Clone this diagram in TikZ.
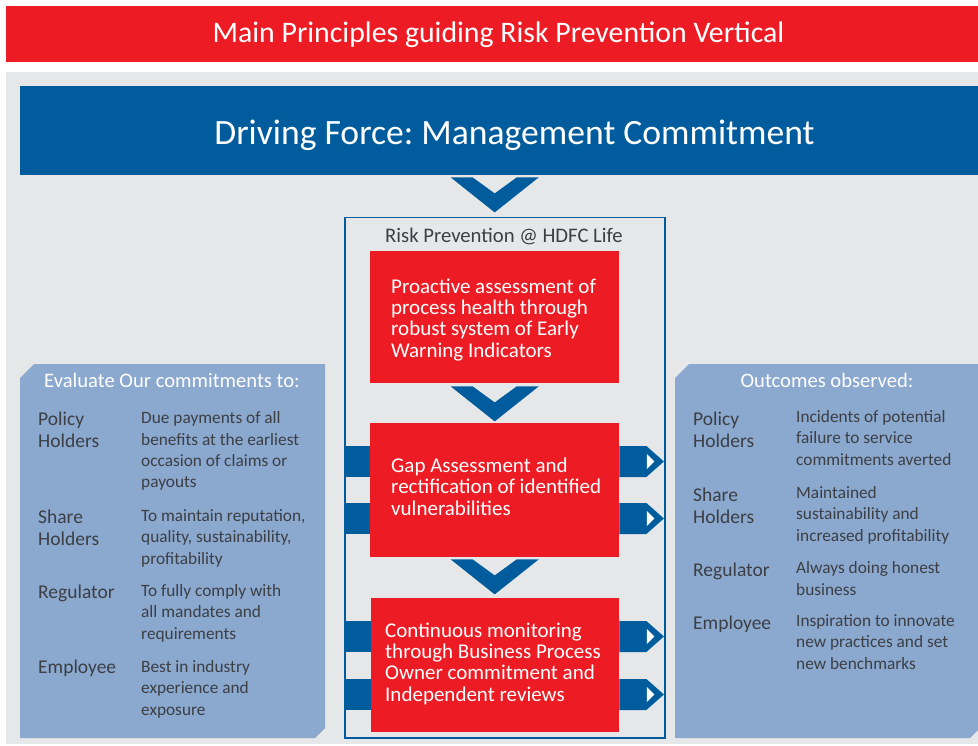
\documentclass[tikz,border=0pt]{standalone}
\usepackage{fontspec}
\setmainfont{Carlito}
\frenchspacing
\usetikzlibrary{calc}
\definecolor{hred}{HTML}{ED1C24}
\definecolor{hblue}{HTML}{005C9C}
\definecolor{hgray}{HTML}{E6E7E9}
\definecolor{hpanel}{HTML}{8BA8CF}
\definecolor{tdark}{HTML}{3C3F44}
\tikzset{
  chevron/.pic={\fill[hblue] (-44,0) -- (-22,0) -- (0,16) -- (22,0) -- (44,0) -- (0,35) -- cycle;},
  rarrow/.pic={\fill[hblue] (0,-15.5) -- (27,-15.5) -- (44.5,0) -- (27,15.5) -- (0,15.5) -- cycle;
               \fill[white] (27.5,-7.5) -- (35,0) -- (27.5,7.5) -- cycle;},
  redbox/.style={fill=hred, inner sep=0, anchor=north west},
  redtext/.style={text=white, inner sep=0, anchor=base west, align=left, font=\fontsize{21}{21.3}\selectfont},
  ptitle/.style={text=white, inner sep=0, anchor=base, font=\fontsize{20.6}{22}\selectfont},
  lbl/.style={text=tdark, inner sep=0, anchor=base west, align=left, font=\fontsize{19.5}{21.5}\selectfont},
  desc/.style={text=tdark, inner sep=0, anchor=base west, align=left, font=\fontsize{17.3}{21.2}\selectfont},
}
\begin{document}
\begin{tikzpicture}[x=1pt,y=-1pt]
\useasboundingbox (0,0) rectangle (978,746);
\fill[white] (0,0) rectangle (978,746);
% title bar
\node[fill=hred, inner sep=0, minimum width=972pt, minimum height=56pt, anchor=north west] (titlebar) at (6,6) {};
\node[text=white, inner sep=0, anchor=base, font=\fontsize{29.8}{32}\selectfont] (titletext) at (498.5,43) {Main Principles guiding Risk Prevention Vertical};
% gray background
\fill[hgray] (6,72) rectangle (978,744);
% driving force band
\node[fill=hblue, inner sep=0, minimum width=958pt, minimum height=89pt, anchor=north west] (band) at (20,86) {};
\node[text=white, inner sep=0, anchor=base, font=\fontsize{35.6}{38}\selectfont] (bandtext) at (514.5,145) {Driving Force: Management Commitment};
% frame
\node[draw=hblue, line width=1.5pt, inner sep=0, minimum width=320pt, minimum height=520pt, anchor=north west] (frame) at (344,217) {};
\node[text=tdark, inner sep=0, anchor=base, font=\fontsize{20.7}{22}\selectfont] (frametitle) at (504,243) {Risk Prevention @ HDFC Life};
% red boxes
\node[redbox, minimum width=249pt, minimum height=132pt] (b1) at (370,251) {};
\node[redbox, minimum width=249pt, minimum height=134pt] (b2) at (370,423) {};
\node[redbox, minimum width=248pt, minimum height=134pt] (b3) at (371,598) {};
\node[redtext] (t1) at (391,357) {Proactive assessment of\\process health through\\robust system of Early\\Warning Indicators};
\node[redtext] (t2) at (391,515) {Gap Assessment and\\rectification of identified\\vulnerabilities};
\node[redtext] (t3) at (385,701) {Continuous monitoring\\through Business Process\\Owner commitment and\\Independent reviews};
% chevrons
\pic at (band.south -| b1.north) [yshift=-2pt] {chevron};
\pic at ($(b1.south)+(0,3)$) {chevron};
\pic at ($(b2.south)+(0,2)$) {chevron};
% side bars
\fill[hblue] (frame.west |- 0,446) rectangle (b2.west |- 0,477);
\fill[hblue] (frame.west |- 0,503) rectangle (b2.west |- 0,534);
\fill[hblue] (frame.west |- 0,621) rectangle (b3.west |- 0,652);
\fill[hblue] (frame.west |- 0,679) rectangle (b3.west |- 0,710);
\pic at (b2.east |- 0,461.5) {rarrow};
\pic at (b2.east |- 0,518.5) {rarrow};
\pic at (b3.east |- 0,636.5) {rarrow};
\pic at (b3.east |- 0,694.5) {rarrow};
% left panel
\fill[hpanel] (20,378) -- (34,364) -- (325,364) -- (325,728) -- (315,738) -- (20,738) -- cycle;
\node[ptitle] (ltitle) at (172,387) {Evaluate Our commitments to:};
\node[lbl] (l1) at (38,447) {Policy\\Holders};
\node[lbl] (l2) at (38,545) {Share\\Holders};
\node[lbl] (l3) at (38,598) {Regulator};
\node[lbl] (l4) at (38,673) {Employee};
\node[desc] (ld1) at (141,487.5) {Due payments of all\\benefits at the earliest\\occasion of claims or\\payouts};
\node[desc] (ld2) at (141,564) {To maintain reputation,\\quality, sustainability,\\profitability};
\node[desc] (ld3) at (141,639) {To fully comply with\\all mandates and\\requirements};
\node[desc] (ld4) at (141,715) {Best in industry\\experience and\\exposure};
% right panel
\fill[hpanel] (675,378) -- (689,364) -- (978,364) -- (978,730) -- (970,738) -- (675,738) -- cycle;
\node[ptitle] (rtitle) at (827,387) {Outcomes observed:};
\node[lbl] (r1) at (693,447) {Policy\\Holders};
\node[lbl] (r2) at (693,523) {Share\\Holders};
\node[lbl] (r3) at (693,576) {Regulator};
\node[lbl] (r4) at (693,629) {Employee};
\node[desc] (rd1) at (796,465) {Incidents of potential\\failure to service\\commitments averted};
\node[desc] (rd2) at (796,541) {Maintained\\sustainability and\\increased profitability};
\node[desc] (rd3) at (796,595) {Always doing honest\\business};
\node[desc] (rd4) at (796,669) {Inspiration to innovate\\new practices and set\\new benchmarks};
\end{tikzpicture}
\end{document}
